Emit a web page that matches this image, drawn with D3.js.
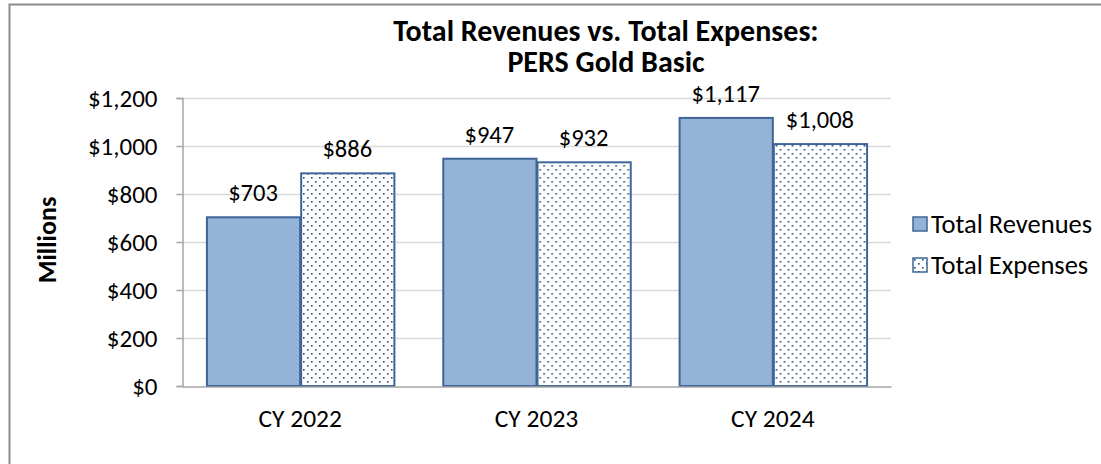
<!DOCTYPE html>
<html>
<head>
<meta charset="utf-8">
<script src="https://cdn.jsdelivr.net/npm/d3@7"></script>
<style>
  body { margin: 0; background: #fff; }
  svg { display: block; }
</style>
</head>
<body>
<svg></svg>
<script>
const years = ['CY 2022', 'CY 2023', 'CY 2024'];
const seriesNames = ['Total Revenues', 'Total Expenses'];
const revenues = [703, 947, 1117];
const expenses = [886, 932, 1008];
const yTicks = [0, 200, 400, 600, 800, 1000, 1200];

const WIDTH = 1101;
const HEIGHT = 464;
const PLOT_LEFT = 182;
const PLOT_RIGHT = 891;
const PLOT_TOP = 98;
const PLOT_BOTTOM = 386;
const FONT = 'Carlito, Calibri, Lato, sans-serif';

const svg = d3.select('svg')
  .attr('width', WIDTH)
  .attr('height', HEIGHT)
  .attr('font-family', FONT);

// dotted fill for expenses
const defs = svg.append('defs');
const pat = defs.append('pattern')
  .attr('id', 'dots')
  .attr('patternUnits', 'userSpaceOnUse')
  .attr('width', 8)
  .attr('height', 8);
pat.append('rect').attr('width', 8).attr('height', 8).attr('fill', '#fff');
pat.append('rect').attr('x', 1).attr('y', 1).attr('width', 1.6).attr('height', 1.6).attr('fill', '#2b4a78');
pat.append('rect').attr('x', 5).attr('y', 5).attr('width', 1.6).attr('height', 1.6).attr('fill', '#2b4a78');

// outer chart frame
svg.append('rect')
  .attr('x', 9.5)
  .attr('y', 4.5)
  .attr('width', WIDTH + 20)
  .attr('height', HEIGHT + 20)
  .attr('fill', 'none')
  .attr('stroke', '#8c8c8c')
  .attr('stroke-width', 2);

const x0 = d3.scaleBand()
  .domain(years)
  .range([PLOT_LEFT, PLOT_RIGHT]);

const x1 = d3.scaleBand()
  .domain(seriesNames)
  .range([0, x0.bandwidth()])
  .paddingOuter(0.254)
  .paddingInner(0);

const y = d3.scaleLinear()
  .domain([0, 1200])
  .range([PLOT_BOTTOM, PLOT_TOP]);

// gridlines
svg.append('g')
  .selectAll('line')
  .data(yTicks.filter(d => d > 0))
  .join('line')
  .attr('x1', PLOT_LEFT)
  .attr('x2', PLOT_RIGHT)
  .attr('y1', d => Math.round(y(d)) + 0.5)
  .attr('y2', d => Math.round(y(d)) + 0.5)
  .attr('stroke', '#d9d9d9')
  .attr('stroke-width', 1.5);

// y axis
const yAxis = d3.axisLeft(y)
  .tickValues(yTicks)
  .tickSize(6)
  .tickPadding(19)
  .tickFormat(d => '$' + d3.format(',')(d));

const yG = svg.append('g')
  .attr('transform', `translate(${PLOT_LEFT + 0.5},0)`)
  .call(yAxis);
yG.select('.domain').attr('stroke', '#a6a6a6').attr('stroke-width', 1.5);
yG.selectAll('.tick line').attr('stroke', '#a6a6a6').attr('stroke-width', 1.5);
yG.selectAll('.tick text')
  .attr('font-family', FONT)
  .attr('font-size', 25)
  .attr('fill', '#000');

// bars
const data = years.map((yr, i) => ({ year: yr, values: [revenues[i], expenses[i]] }));

const groups = svg.append('g')
  .selectAll('g')
  .data(data)
  .join('g')
  .attr('transform', d => `translate(${x0(d.year)},0)`);

groups.selectAll('rect')
  .data(d => d.values.map((v, j) => ({ name: seriesNames[j], value: v })))
  .join('rect')
  .attr('x', d => x1(d.name) + 1)
  .attr('y', d => y(d.value))
  .attr('width', x1.bandwidth() - 1)
  .attr('height', d => PLOT_BOTTOM - y(d.value))
  .attr('fill', d => d.name === 'Total Revenues' ? '#95b3d7' : 'url(#dots)')
  .attr('stroke', '#3d6597')
  .attr('stroke-width', 2);

groups.selectAll('text')
  .data(d => d.values.map((v, j) => ({ name: seriesNames[j], value: v })))
  .join('text')
  .attr('x', d => x1(d.name) + x1.bandwidth() / 2)
  .attr('y', d => y(d.value) - 16)
  .attr('text-anchor', 'middle')
  .attr('font-size', 24.5)
  .text(d => '$' + d3.format(',')(d.value));

// x axis
const xAxis = d3.axisBottom(x0).tickSize(0);
const xG = svg.append('g')
  .attr('transform', `translate(0,${PLOT_BOTTOM + 0.5})`)
  .call(xAxis);
xG.select('.domain').attr('stroke', '#a6a6a6').attr('stroke-width', 1.5);
xG.selectAll('.tick text')
  .attr('font-family', FONT)
  .attr('font-size', 25.5)
  .attr('fill', '#000')
  .attr('dy', null)
  .attr('y', 40);

// y title
svg.append('text')
  .attr('transform', `translate(56,${(PLOT_TOP + PLOT_BOTTOM) / 2 - 2}) rotate(-90)`)
  .attr('text-anchor', 'middle')
  .attr('font-size', 26)
  .attr('font-weight', 'bold')
  .text('Millions');

// title
const title = svg.append('text')
  .attr('text-anchor', 'middle')
  .attr('font-size', 30)
  .attr('font-weight', 'bold');
title.append('tspan').attr('x', 606).attr('y', 41).text('Total Revenues vs. Total Expenses:');
title.append('tspan').attr('x', 606).attr('y', 72).text('PERS Gold Basic');

// legend
const legend = svg.append('g')
  .selectAll('g')
  .data(seriesNames)
  .join('g')
  .attr('transform', (d, i) => `translate(913,${217 + i * 41})`);

legend.append('rect')
  .attr('width', 14)
  .attr('height', 14)
  .attr('fill', d => d === 'Total Revenues' ? '#95b3d7' : 'url(#dots)')
  .attr('stroke', '#3d6597')
  .attr('stroke-width', 1.5);

legend.append('text')
  .attr('x', 18)
  .attr('y', 16)
  .attr('font-size', 26.5)
  .text(d => d);
</script>
</body>
</html>
